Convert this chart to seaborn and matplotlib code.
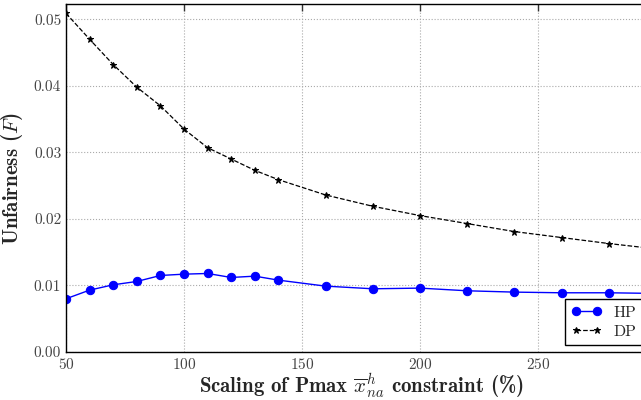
import pandas as pd
import matplotlib
matplotlib.use('Agg')
import matplotlib.pyplot as plt
import seaborn as sns

# --- data ---
scaling = [50, 60, 70, 80, 90, 100, 110, 120, 130, 140, 160, 180, 200, 220, 240, 260, 280, 300]
hp_unfair = [0.0080, 0.0093, 0.0101, 0.0106, 0.0115, 0.0117, 0.0118, 0.0112, 0.0114, 0.0108,
             0.0099, 0.0095, 0.0096, 0.0092, 0.0090, 0.0089, 0.0089, 0.0088]
dp_unfair = [0.0509, 0.0470, 0.0432, 0.0398, 0.0370, 0.0335, 0.0307, 0.0290, 0.0273, 0.0259,
             0.0236, 0.0219, 0.0205, 0.0193, 0.0181, 0.0172, 0.0163, 0.0155]
x_ticks = [50, 100, 150, 200, 250]
y_ticks = [0.0, 0.01, 0.02, 0.03, 0.04, 0.05]

df = pd.DataFrame({'scaling': scaling, 'HP': hp_unfair, 'DP': dp_unfair})

sns.set_theme(style="white")
plt.rcParams['font.family'] = ['cmr10', 'DejaVu Serif']
plt.rcParams['mathtext.fontset'] = 'cm'
plt.rcParams['axes.formatter.use_mathtext'] = True

fig = plt.figure(figsize=(6.41, 4.0), dpi=100)
# axes runs a little past the right edge, like the cropped original
ax = fig.add_axes([66 / 641, 48 / 400, 590 / 641, 348 / 400])

sns.lineplot(data=df, x='scaling', y='HP', ax=ax, color='blue', marker='o',
             markersize=6, markeredgecolor='blue', linewidth=1, label='HP')
sns.lineplot(data=df, x='scaling', y='DP', ax=ax, color='black', marker='*',
             markersize=5, markeredgecolor='black', linewidth=0.9, linestyle='--',
             dashes=(4, 3), label='DP')

ax.set_xlim(50, 300)
ax.set_ylim(0, 0.0523)
ax.set_xticks(x_ticks)
ax.set_yticks(y_ticks)
ax.set_yticklabels([f'{v:.2f}' for v in y_ticks])
# grid line at 300 sits off the cropped edge anyway
ax.grid(True, color='#aaaaaa', linestyle=':', linewidth=0.8)
for sp in ax.spines.values():
    sp.set_color('black')
    sp.set_linewidth(1.0)
ax.tick_params(direction='in', top=True, right=True, length=5, width=1,
               labelsize=11, colors='#333333', labelcolor='#444444')

ax.set_xlabel(r'Scaling of Pmax $\overline{x}^h_{na}$ constraint (%)',
              fontsize=15, family=['cmb10', 'DejaVu Serif'], labelpad=0)
ax.set_ylabel(r'Unfairness ($F$)', fontsize=15, family=['cmb10', 'DejaVu Serif'], labelpad=6)

leg = ax.legend(loc='lower right', bbox_to_anchor=(0.977, 0.02), fontsize=11.5, numpoints=2,
                fancybox=False, framealpha=1, edgecolor='black', borderaxespad=0,
                handlelength=1.9, labelspacing=0.3, borderpad=0.4, handletextpad=0.7)
leg.get_frame().set_linewidth(1.0)

fig.savefig('out.png', dpi=100)
